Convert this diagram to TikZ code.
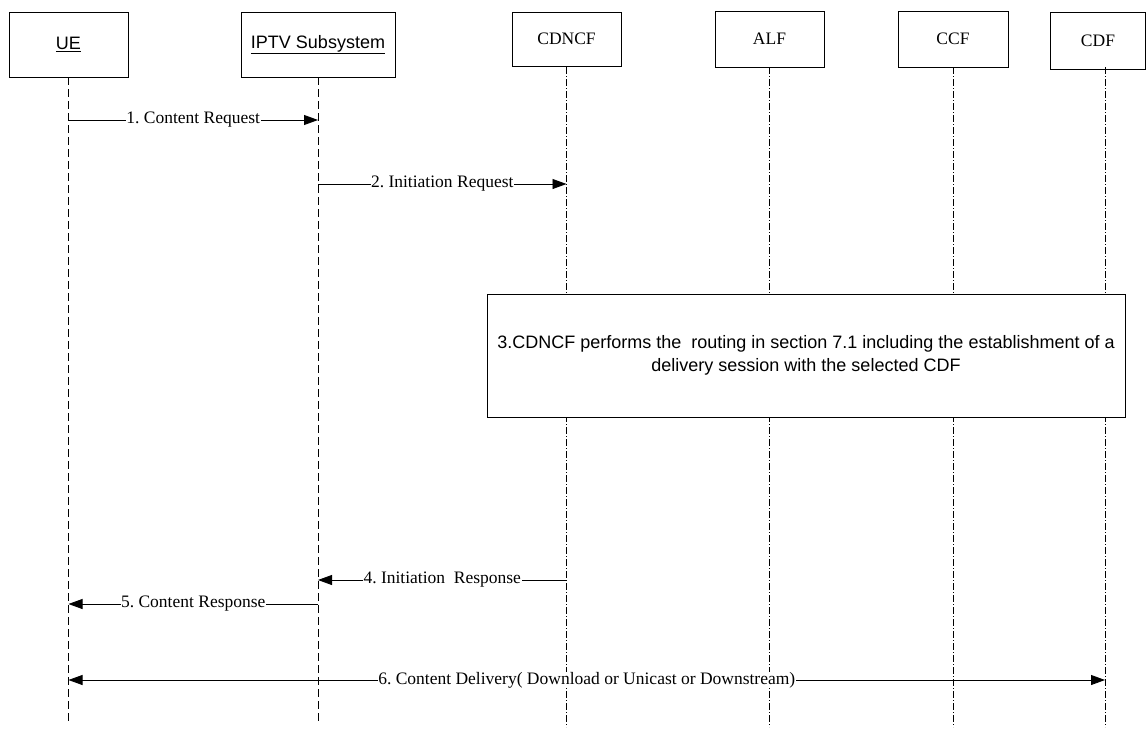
\documentclass[tikz,border=0pt]{standalone}
\usepackage{fontspec}
\setmainfont{Liberation Serif}
\setsansfont{Liberation Sans}
\usetikzlibrary{arrows.meta,positioning}
\frenchspacing

\begin{document}
\begin{tikzpicture}[x=1pt,y=-1pt,>={Triangle[length=14pt,width=10pt]},
                    line width=0.8pt,font=\fontsize{17.5}{20}\selectfont,
                    entity/.style={draw,fill=white,inner sep=0pt},
                    lifea/.style={dash pattern=on 8pt off 4pt},
                    lifeb/.style={dash pattern=on 7pt off 2pt on 1pt off 2pt},
                    msg/.style={fill=white,inner sep=0.5pt}]

  \useasboundingbox (0,0) rectangle (1147,731);

  \node[entity,minimum width=119pt,minimum height=65pt,
        font=\sffamily\fontsize{18}{21}\selectfont] (ue)    at (68.5,44.5) {\underline{UE}};
  \node[entity,minimum width=154pt,minimum height=65pt,
        font=\sffamily\fontsize{18}{21}\selectfont] (iptv)  at (318,44.5)  {\underline{IPTV Subsystem}};
  \node[entity,minimum width=109pt,minimum height=54pt] (cdncf) at (566.5,39) {CDNCF};
  \node[entity,minimum width=109pt,minimum height=56pt] (alf)   at (769.5,39) {ALF};
  \node[entity,minimum width=110pt,minimum height=56pt] (ccf)   at (953,39)   {CCF};
  \node[entity,minimum width=95pt,minimum height=57pt]  (cdf)   at (1098,40.5) {CDF};
  \coordinate (cdfl) at ([xshift=7pt]cdf.south);

  % lifelines
  \foreach \n in {ue,iptv}
    \draw[lifea] (\n.south) -- (\n |- 0,722);
  \foreach \n in {cdncf,alf,ccf,cdfl}
    \draw[lifeb] (\n |- 0,67) -- (\n |- 0,727);

  % messages
  \coordinate (m1a) at (ue |- 0,120);
  \coordinate (m1b) at (iptv |- 0,120);
  \draw[->] (m1a) -- node[msg] {1. Content Request} (m1b);

  \coordinate (m2a) at (iptv |- 0,184);
  \coordinate (m2b) at (cdncf |- 0,184);
  \draw[->] (m2a) -- node[msg] {2. Initiation Request} (m2b);

  \node[entity,minimum width=638pt,minimum height=123pt,align=center,
        font=\sffamily\fontsize{18}{23}\selectfont] (route) at (806,355.5)
        {3.CDNCF performs the\ \ routing in section 7.1 including the establishment of a\\
         delivery session with the selected CDF};

  \coordinate (m4a) at (cdncf |- 0,580);
  \coordinate (m4b) at (iptv |- 0,580);
  \draw[->] (m4a) -- node[msg] {4. Initiation\ \ Response} (m4b);

  \coordinate (m5a) at (iptv |- 0,604);
  \coordinate (m5b) at (ue |- 0,604);
  \draw[->] (m5a) -- node[msg] {5. Content Response} (m5b);

  \coordinate (m6a) at (ue |- 0,680);
  \coordinate (m6b) at (cdfl |- 0,680);
  \draw[<->] (m6a) -- node[msg] {6. Content Delivery( Download or Unicast or Downstream)} (m6b);
\end{tikzpicture}
\end{document}
